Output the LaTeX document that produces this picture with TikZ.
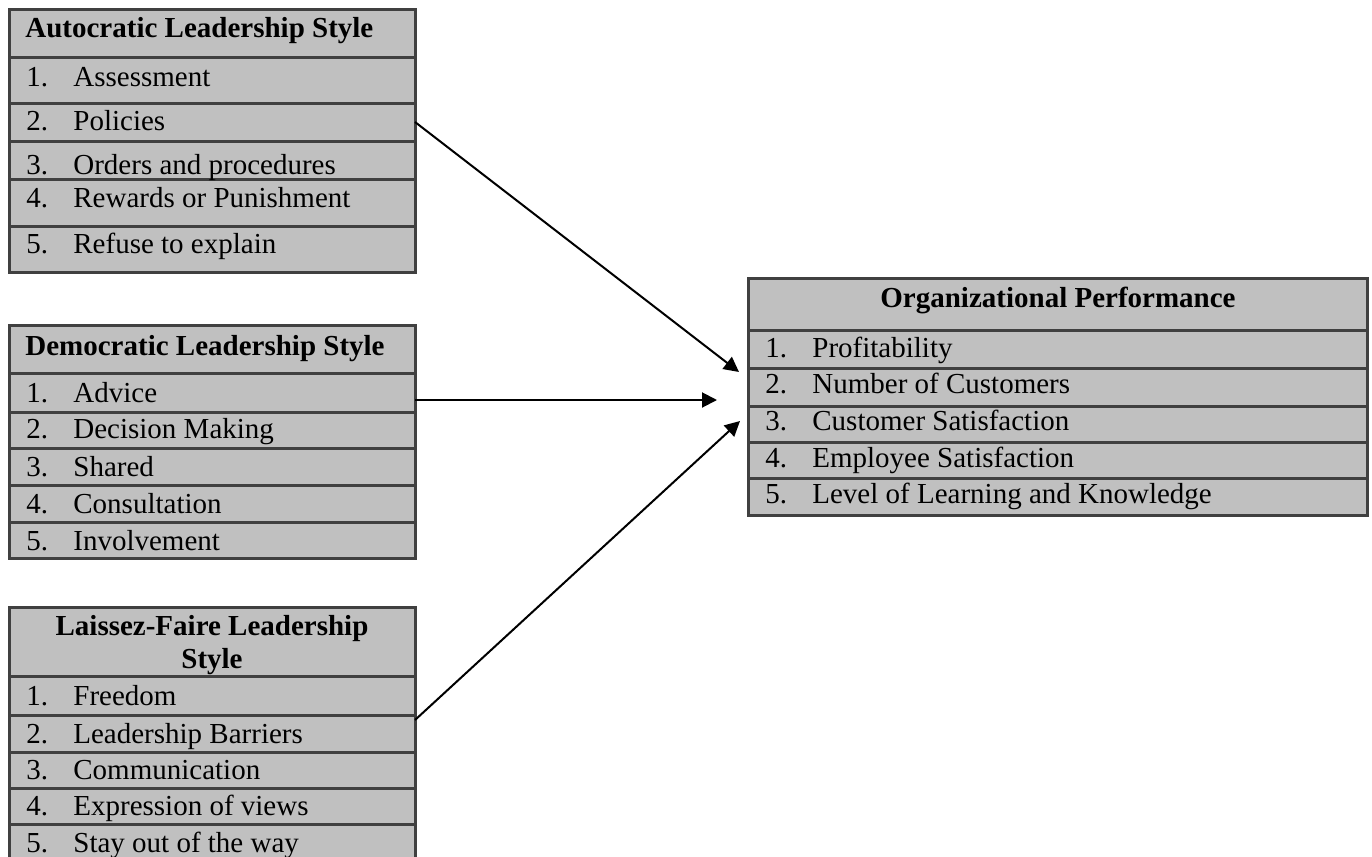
\documentclass[tikz,border=0pt]{standalone}
\usepackage{fontspec}
\setmainfont{Liberation Serif}
\usepackage{tikz}
\usetikzlibrary{arrows.meta}
\definecolor{fond}{HTML}{C0C0C0}
\definecolor{bordure}{HTML}{404040}
\newcommand{\numero}[1]{\makebox[23.5pt][l]{#1}}

\begin{document}
\begin{tikzpicture}[x=0.5pt,y=-0.5pt,
	every node/.style={font=\fontsize{14.5}{16.5}\selectfont},
	cellule/.style={draw=bordure,fill=fond,line width=1.5pt,minimum width=203pt,anchor=north west,inner sep=0pt,outer sep=0pt},
	grande/.style={cellule,minimum width=309.5pt},
	titre/.style={font=\fontsize{14.5}{16.5}\selectfont\bfseries,inner sep=0pt},
	elem/.style={anchor=base west,inner sep=0pt},
	fleche/.style={-{Triangle[length=7.5pt,width=7.5pt]},line width=1pt}]
%					Cadre de la figure :
					\useasboundingbox (0,0) rectangle (1372,857);
					\clip (0,0) rectangle (1372,857);
%					Tableau autocratique :
					\node[cellule,minimum height=24pt] (a0) at (9,9) {};
					\node[cellule,minimum height=23pt] (a1) at (9,57) {};
					\node[cellule,minimum height=19pt] (a2) at (9,103) {};
					\node[cellule,minimum height=19pt] (a3) at (9,141) {};
					\node[cellule,minimum height=23.5pt] (a4) at (9,179) {};
					\node[cellule,minimum height=23pt] (a5) at (9,226) {};
					\node[titre,anchor=base west] (ta0) at (25,37) {Autocratic Leadership Style};
					\node[elem] (ta1) at (26,86) {\numero{1.}Assessment};
					\node[elem] (ta2) at (26,130) {\numero{2.}Policies};
					\node[elem] (ta3) at (26,174) {\numero{3.}Orders and procedures};
					\node[elem] (ta4) at (26,207) {\numero{4.}Rewards or Punishment};
					\node[elem] (ta5) at (26,253) {\numero{5.}Refuse to explain};
%					Tableau démocratique :
					\node[cellule,minimum height=24pt] (d0) at (9,325) {};
					\node[cellule,minimum height=19.5pt] (d1) at (9,373) {};
					\node[cellule,minimum height=18pt] (d2) at (9,412) {};
					\node[cellule,minimum height=18.5pt] (d3) at (9,448) {};
					\node[cellule,minimum height=18.5pt] (d4) at (9,485) {};
					\node[cellule,minimum height=18pt] (d5) at (9,522) {};
					\node[titre,anchor=base west] (td0) at (25,355) {Democratic Leadership Style};
					\node[elem] (td1) at (26,402) {\numero{1.}Advice};
					\node[elem] (td2) at (26,438) {\numero{2.}Decision Making};
					\node[elem] (td3) at (26,476) {\numero{3.}Shared};
					\node[elem] (td4) at (26,513) {\numero{4.}Consultation};
					\node[elem] (td5) at (26,550) {\numero{5.}Involvement};
%					Tableau laissez-faire :
					\node[cellule,minimum height=34.5pt] (l0) at (9,607) {};
					\node[cellule,minimum height=19.5pt] (l1) at (9,676) {};
					\node[cellule,minimum height=18.5pt] (l2) at (9,715) {};
					\node[cellule,minimum height=18pt] (l3) at (9,752) {};
					\node[cellule,minimum height=18pt] (l4) at (9,788) {};
					\node[cellule,minimum height=28pt] (l5) at (9,824) {};
					\node[titre,anchor=base,align=center] (tl0) at (212,668) {Laissez-Faire Leadership\\Style};
					\node[elem] (tl1) at (26,705) {\numero{1.}Freedom};
					\node[elem] (tl2) at (26,743) {\numero{2.}Leadership Barriers};
					\node[elem] (tl3) at (26,779) {\numero{3.}Communication};
					\node[elem] (tl4) at (26,815) {\numero{4.}Expression of views};
					\node[elem] (tl5) at (26,852) {\numero{5.}Stay out of the way};
%					Tableau de la performance :
					\node[grande,minimum height=26pt] (o0) at (748,278) {};
					\node[grande,minimum height=19pt] (o1) at (748,330) {};
					\node[grande,minimum height=19pt] (o2) at (748,368) {};
					\node[grande,minimum height=18pt] (o3) at (748,406) {};
					\node[grande,minimum height=18pt] (o4) at (748,442) {};
					\node[grande,minimum height=18.5pt] (o5) at (748,478) {};
					\node[titre,anchor=base] (to0) at (1058,307) {Organizational Performance};
					\node[elem] (to1) at (765,357) {\numero{1.}Profitability};
					\node[elem] (to2) at (765,393) {\numero{2.}Number of Customers};
					\node[elem] (to3) at (765,430) {\numero{3.}Customer Satisfaction};
					\node[elem] (to4) at (765,467) {\numero{4.}Employee Satisfaction};
					\node[elem] (to5) at (765,503) {\numero{5.}Level of Learning and Knowledge};
%					Tracé des flèches :
					\coordinate (pa) at (739,372);
					\coordinate (pd) at (717,400);
					\coordinate (pl) at (740,421);
					\draw[fleche] (a2.east) -- (pa);
					\draw[fleche] ([yshift=-3.75pt]d1.east) -- (pd);
					\draw[fleche] ([yshift=-2.5pt]l2.north east) -- (pl);
				\end{tikzpicture}
\end{document}
